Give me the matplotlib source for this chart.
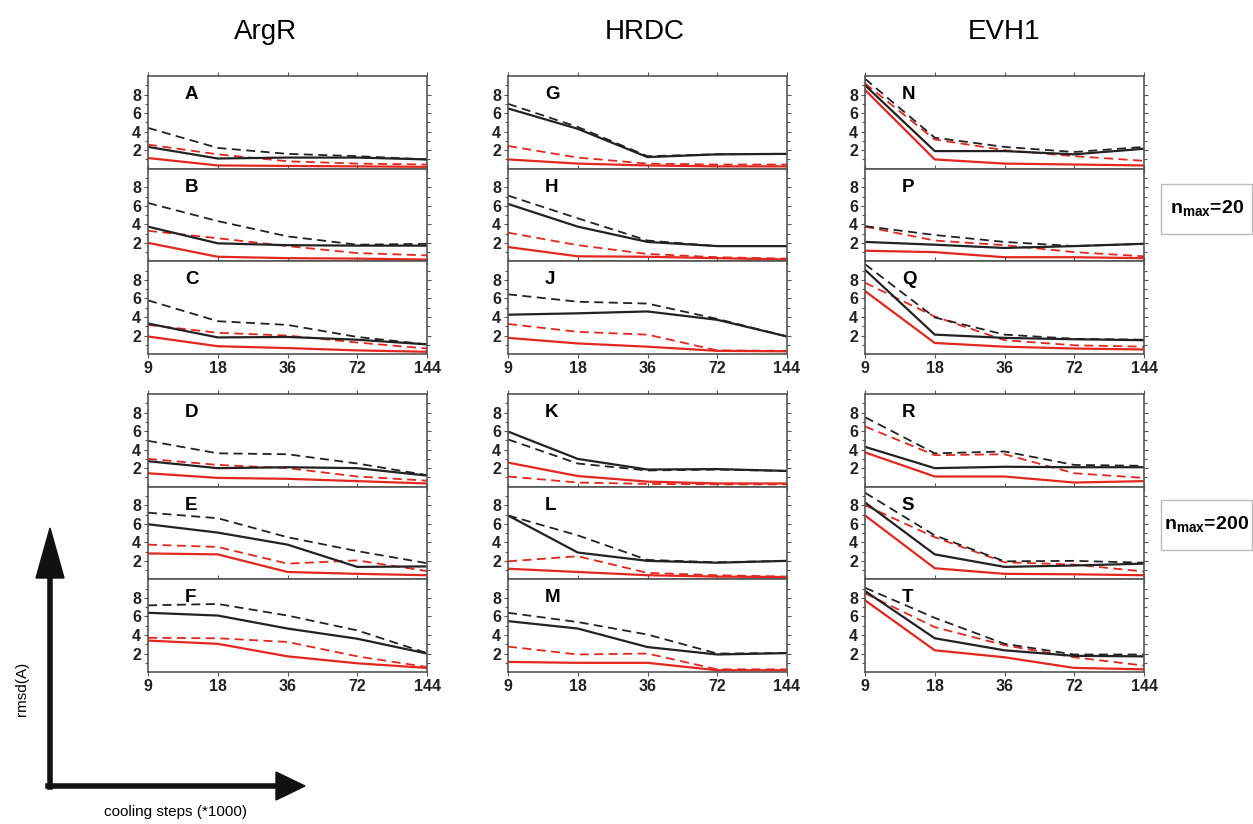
import numpy as np
import matplotlib
matplotlib.use("Agg")
import matplotlib.pyplot as plt
from matplotlib.patches import Polygon, Rectangle
from matplotlib.lines import Line2D

plt.rcParams['font.family'] = ['Liberation Sans', 'DejaVu Sans']

steps = ['9', '18', '36', '72', '144']
proteins = ['ArgR', 'HRDC', 'EVH1']
labels = [['A', 'B', 'C', 'D', 'E', 'F'],
          ['G', 'H', 'J', 'K', 'L', 'M'],
          ['N', 'P', 'Q', 'R', 'S', 'T']]

# rmsd values per panel: black solid, black dashed, red solid, red dashed
black_solid = {
    'A': [2.35, 1.1, 1.2, 1.2, 1.0],
    'B': [3.75, 1.95, 1.75, 1.7, 1.7],
    'C': [3.3, 1.8, 1.85, 1.55, 1.05],
    'D': [2.75, 2.0, 2.1, 2.0, 1.2],
    'E': [5.95, 5.05, 3.75, 1.35, 1.4],
    'F': [6.4, 6.1, 4.7, 3.6, 2.0],
    'G': [6.5, 4.3, 1.25, 1.55, 1.6],
    'H': [6.2, 3.75, 2.1, 1.65, 1.65],
    'J': [4.25, 4.4, 4.6, 3.7, 1.9],
    'K': [5.95, 3.0, 1.85, 1.9, 1.7],
    'L': [6.9, 2.9, 2.0, 1.8, 2.0],
    'M': [5.5, 4.7, 2.7, 1.9, 2.05],
    'N': [9.0, 1.9, 1.9, 1.55, 2.15],
    'P': [2.1, 1.8, 1.45, 1.65, 1.9],
    'Q': [9.1, 2.1, 1.75, 1.6, 1.5],
    'R': [4.3, 2.0, 2.15, 2.1, 2.1],
    'S': [8.3, 2.7, 1.35, 1.5, 1.7],
    'T': [8.75, 3.65, 2.35, 1.75, 1.7],
}
black_dashed = {
    'A': [4.4, 2.24, 1.6, 1.35, 1.0],
    'B': [6.3, 4.35, 2.7, 1.8, 1.9],
    'C': [5.8, 3.55, 3.15, 1.85, 1.05],
    'D': [4.95, 3.6, 3.5, 2.5, 1.25],
    'E': [7.2, 6.6, 4.55, 3.05, 1.75],
    'F': [7.2, 7.35, 6.1, 4.5, 2.05],
    'G': [7.0, 4.5, 1.35, 1.55, 1.6],
    'H': [7.1, 4.65, 2.25, 1.65, 1.65],
    'J': [6.45, 5.65, 5.45, 3.8, 1.9],
    'K': [5.1, 2.5, 1.75, 1.85, 1.7],
    'L': [6.9, 4.75, 2.1, 1.85, 2.0],
    'M': [6.4, 5.4, 4.05, 2.0, 2.05],
    'N': [9.7, 3.35, 2.35, 1.8, 2.35],
    'P': [3.8, 2.85, 2.1, 1.65, 1.9],
    'Q': [9.7, 3.95, 2.1, 1.65, 1.55],
    'R': [7.5, 3.6, 3.8, 2.35, 2.25],
    'S': [9.35, 4.75, 1.95, 2.0, 1.8],
    'T': [9.1, 5.85, 3.05, 1.9, 1.9],
}
red_solid = {
    'A': [1.15, 0.35, 0.3, 0.25, 0.2],
    'B': [2.0, 0.5, 0.35, 0.3, 0.2],
    'C': [1.9, 0.85, 0.65, 0.4, 0.25],
    'D': [1.45, 0.95, 0.85, 0.6, 0.35],
    'E': [2.8, 2.7, 0.8, 0.6, 0.45],
    'F': [3.4, 3.05, 1.7, 0.95, 0.45],
    'G': [1.0, 0.55, 0.35, 0.25, 0.25],
    'H': [1.55, 0.55, 0.5, 0.35, 0.2],
    'J': [1.75, 1.15, 0.8, 0.35, 0.3],
    'K': [2.6, 1.15, 0.55, 0.35, 0.35],
    'L': [1.15, 0.8, 0.45, 0.3, 0.25],
    'M': [1.1, 1.0, 1.0, 0.2, 0.2],
    'N': [8.5, 1.0, 0.55, 0.45, 0.35],
    'P': [1.15, 1.0, 0.45, 0.45, 0.35],
    'Q': [6.8, 1.2, 0.8, 0.6, 0.5],
    'R': [3.7, 1.1, 1.1, 0.45, 0.6],
    'S': [6.9, 1.2, 0.6, 0.55, 0.45],
    'T': [7.75, 2.35, 1.6, 0.45, 0.3],
}
red_dashed = {
    'A': [2.6, 1.55, 0.8, 0.55, 0.45],
    'B': [3.3, 2.5, 1.65, 0.9, 0.65],
    'C': [3.15, 2.3, 2.0, 1.25, 0.6],
    'D': [3.0, 2.35, 2.0, 1.1, 0.65],
    'E': [3.75, 3.5, 1.7, 2.05, 0.9],
    'F': [3.7, 3.65, 3.25, 1.7, 0.55],
    'G': [2.45, 1.2, 0.55, 0.45, 0.45],
    'H': [3.1, 1.75, 0.8, 0.45, 0.3],
    'J': [3.25, 2.4, 2.1, 0.4, 0.35],
    'K': [1.1, 0.45, 0.3, 0.25, 0.25],
    'L': [1.95, 2.5, 0.7, 0.45, 0.3],
    'M': [2.75, 1.9, 2.0, 0.3, 0.3],
    'N': [9.2, 3.15, 2.0, 1.35, 0.85],
    'P': [3.75, 2.25, 1.75, 1.0, 0.55],
    'Q': [7.7, 4.05, 1.5, 0.95, 0.8],
    'R': [6.5, 3.4, 3.5, 1.45, 0.95],
    'S': [8.0, 4.55, 1.85, 1.6, 0.85],
    'T': [8.5, 4.85, 2.9, 1.6, 0.7],
}

W, H = 1253, 824
fig = plt.figure(figsize=(W / 100, H / 100), dpi=100)

col_left = [148, 508, 865]
title_x = [266, 645, 1004]
ax_w = 279
group_top = [76, 394]
ax_h = 92.7
red = '#e3261e'
spine = '#555555'
x = np.arange(len(steps))

for c in range(3):
    fig.text(title_x[c] / W, 1 - 32 / H, proteins[c],
             ha='center', va='center', fontsize=20)
    for g in range(2):
        for r in range(3):
            lab = labels[c][g * 3 + r]
            top = group_top[g] + r * ax_h
            ax = fig.add_axes([col_left[c] / W, 1 - (top + ax_h) / H, ax_w / W, ax_h / H])
            ax.plot(x, red_dashed[lab], color=red, lw=1.3, ls=(0, (5, 3)))
            ax.plot(x, red_solid[lab], color=red, lw=1.6)
            ax.plot(x, black_dashed[lab], color='#222222', lw=1.3, ls=(0, (5, 3)))
            ax.plot(x, black_solid[lab], color='#222222', lw=1.6)
            ax.set_xlim(0, 4)
            ax.set_ylim(0, 10)
            ax.set_yticks([2, 4, 6, 8])
            ax.set_yticks(np.arange(1, 10, 1), minor=True)
            ax.set_xticks(x)
            ax.tick_params(axis='both', which='both', direction='out', colors=spine,
                           labelcolor='#222222', labelsize=11.5, right=True, top=True,
                           length=3, width=0.8, pad=2)
            ax.tick_params(axis='both', which='minor', length=2)
            for lb in ax.get_yticklabels():
                lb.set_fontweight('bold')
            if r == 2:
                ax.set_xticklabels(steps, fontweight='bold', fontsize=11.5)
            else:
                ax.set_xticklabels([])
            for s in ax.spines.values():
                s.set_color(spine)
                s.set_linewidth(1.2)
            ax.text(0.53, 8.0, lab, fontsize=13.5, fontweight='bold', va='center', ha='left')

# n_max boxes
for (y0, y1, txt) in [(184, 234, r'n$_{\mathregular{max}}$=20'), (500, 550, r'n$_{\mathregular{max}}$=200')]:
    fig.patches.append(Rectangle((1161 / W, 1 - y1 / H), 91 / W, (y1 - y0) / H,
                                 transform=fig.transFigure, fill=False,
                                 edgecolor='#bbbbbb', lw=1))
    fig.text(1207 / W, 1 - (y0 + y1) / 2 / H, txt, ha='center', va='center',
             fontsize=14, fontweight='bold')

# big axis arrows
fig.add_artist(Line2D([50 / W, 50 / W], [1 - 787 / H, 1 - 575 / H], color='#111111',
                      lw=4, transform=fig.transFigure))
fig.add_artist(Line2D([48 / W, 280 / W], [1 - 786 / H, 1 - 786 / H], color='#111111',
                      lw=4, transform=fig.transFigure))
fig.patches.append(Polygon([(36 / W, 1 - 578 / H), (64 / W, 1 - 578 / H), (50 / W, 1 - 528 / H)],
                           closed=True, transform=fig.transFigure, color='#111111'))
fig.patches.append(Polygon([(276 / W, 1 - 772 / H), (276 / W, 1 - 800 / H), (305 / W, 1 - 786 / H)],
                           closed=True, transform=fig.transFigure, color='#111111'))
fig.text(22 / W, 1 - 689 / H, 'rmsd(A)', rotation=90, ha='center', va='center', fontsize=11)
fig.text(175 / W, 1 - 812 / H, 'cooling steps (*1000)', ha='center', va='center', fontsize=11)

fig.savefig('out.png', dpi=100)
